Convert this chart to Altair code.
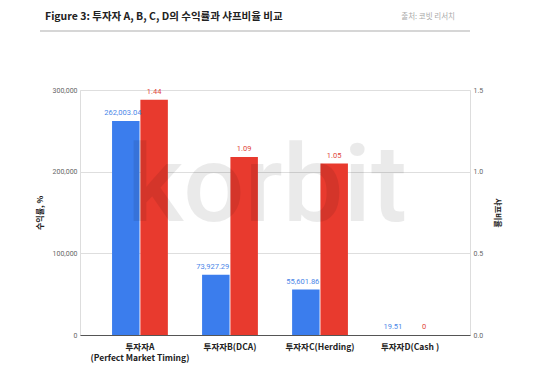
import altair as alt
import pandas as pd

categories = ["투자자A\n(Perfect Market Timing)", "투자자B(DCA)", "투자자C(Herding)", "투자자D(Cash )"]
returns = [262003.04, 73927.29, 55601.86, 19.51]
sharpe = [1.44, 1.09, 1.05, 0.0]
return_labels = ["262,003.04", "73,927.29", "55,601.86", "19.51"]
sharpe_labels = ["1.44", "1.09", "1.05", "0"]
series_names = ["수익률", "샤프비율"]

df = pd.DataFrame({
    "cat": categories,
    "ret": returns,
    "sharpe": sharpe,
    "ret_lbl": return_labels,
    "sh_lbl": sharpe_labels,
})

FONT = "Noto Sans CJK KR"
NUMFONT = "Roboto"
BLUE = "#3b7ded"
RED = "#e83a2e"

x_scale = alt.Scale(paddingInner=0.38, paddingOuter=0.356)
xo_scale = alt.Scale(domain=series_names, paddingInner=0.03)
ret_scale = alt.Scale(domain=[0, 300000])
sh_scale = alt.Scale(domain=[0, 1.5])

x_axis = alt.Axis(labelExpr="split(datum.label, '\\n')", labelAngle=0,
                  labelFont=FONT, labelFontSize=8.5, labelFontWeight="bold",
                  labelColor="#222", labelBaseline="middle", labelLineHeight=11,
                  labelPadding=11, ticks=False, tickSize=0,
                  domainColor="#555", domainWidth=1, grid=False)
x_enc = alt.X("cat:N", sort=categories, title=None, scale=x_scale, axis=x_axis)

base = alt.Chart(df)

blue_bar = base.transform_calculate(s="'수익률'").mark_bar(color=BLUE).encode(
    x=x_enc,
    xOffset=alt.XOffset("s:N", scale=xo_scale),
    y=alt.Y("ret:Q", title="수익률, %", scale=ret_scale,
            axis=alt.Axis(orient="left", values=[0, 100000, 200000, 300000],
                          format=",d", formatType="number",
                          labelFont=NUMFONT, labelFontSize=7, labelColor="#666",
                          labelPadding=3, ticks=False, domain=False,
                          gridColor="#dedede", gridWidth=1,
                          titleFont=FONT, titleFontSize=8, titleFontWeight="bold",
                          titleColor="#222", titlePadding=8)),
)
red_bar = base.transform_calculate(s="'샤프비율'").mark_bar(color=RED).encode(
    x=x_enc,
    xOffset=alt.XOffset("s:N", scale=xo_scale),
    y=alt.Y("sharpe:Q", title="샤프비율", scale=sh_scale,
            axis=alt.Axis(orient="right", values=[0, 0.5, 1.0, 1.5],
                          format=".1f", formatType="number",
                          labelFont=NUMFONT, labelFontSize=7, labelColor="#666",
                          labelPadding=3, ticks=False, domain=False, grid=False,
                          titleFont=FONT, titleFontSize=8, titleFontWeight="bold",
                          titleColor="#222", titlePadding=10)),
)
blue_txt = base.transform_calculate(s="'수익률'").mark_text(
    color="#4a86e8", font=NUMFONT, fontSize=7.5, baseline="bottom", dy=-4, dx=-3).encode(
    x=x_enc,
    xOffset=alt.XOffset("s:N", scale=xo_scale),
    y=alt.Y("ret:Q", scale=ret_scale, axis=None),
    text="ret_lbl:N",
)
red_txt = base.transform_calculate(s="'샤프비율'").mark_text(
    color="#e0463a", font=NUMFONT, fontSize=7.5, baseline="bottom", dy=-4).encode(
    x=x_enc,
    xOffset=alt.XOffset("s:N", scale=xo_scale),
    y=alt.Y("sharpe:Q", scale=sh_scale, axis=None),
    text="sh_lbl:N",
)

deco_df = pd.DataFrame({"t": ["korbit"]})
deco = alt.Chart(deco_df)
watermark = deco.mark_text(font="Roboto", fontSize=108, fontWeight=500, color="#000",
                           opacity=0.08, align="center", baseline="alphabetic").encode(
    x=alt.value(187), y=alt.value(131), text="t:N")
title_txt = deco.mark_text(font=FONT, fontSize=10.5, fontWeight="bold", color="#222",
                           align="left", baseline="middle").encode(
    x=alt.value(-35), y=alt.value(-73),
    text=alt.value("Figure 3: 투자자 A, B, C, D의 수익률과 샤프비율 비교"))
source_txt = deco.mark_text(font=FONT, fontSize=7.5, color="#aaa",
                            align="right", baseline="middle").encode(
    x=alt.value(375), y=alt.value(-73), text=alt.value("출처: 코빗 리서치"))
title_rule = deco.mark_rule(color="#d6d6d6", strokeWidth=2).encode(
    x=alt.value(-40), x2=alt.value(390), y=alt.value(-59))

chart = alt.layer(
    blue_bar, red_bar, watermark, blue_txt, red_txt, title_txt, source_txt, title_rule,
).resolve_scale(y="independent").properties(
    width=390, height=245,
    autosize=alt.AutoSizeParams(type="none"),
    padding={"left": 80, "top": 90, "right": 80, "bottom": 31},
).configure_view(stroke=None).configure(background="white")

chart.save("out.html", embed_options={"renderer": "svg", "actions": False})
